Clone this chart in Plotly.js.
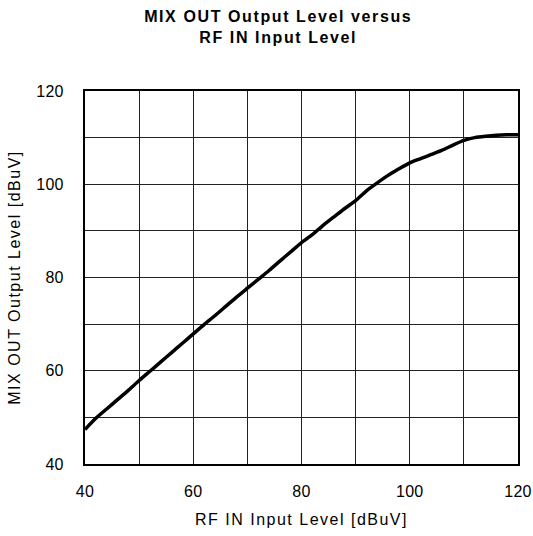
<!DOCTYPE html>
<html>
<head>
<meta charset="utf-8">
<script src="https://cdn.plot.ly/plotly-3.0.1.min.js"></script>
<style>
html,body{margin:0;padding:0;background:#fff;}
#chart{width:533px;height:536px;}
#chart .gtitle{letter-spacing:1.6px;}
#chart .xtitle, #chart .ytitle{letter-spacing:1.5px;}
#chart .xtick text, #chart .ytick text{letter-spacing:0.3px;}
</style>
</head>
<body>
<div id="chart"></div>
<script>
const rfIn = [40,42,44,46,48,50,52,54,56,58,60,62,64,66,68,70,72,74,76,78,80,82,84,86,88,90,92,94,96,98,100,102,104,106,108,110,112,114,116,118,120];
const mixOut = [47.4,49.8,51.8,53.8,55.8,57.9,59.9,61.9,63.9,65.9,67.9,69.9,71.8,73.8,75.8,77.7,79.6,81.5,83.5,85.5,87.5,89.2,91.2,93.0,94.8,96.5,98.6,100.3,101.9,103.3,104.6,105.5,106.4,107.3,108.4,109.4,110.0,110.3,110.5,110.6,110.6];
const gridVals = [40,50,60,70,80,90,100,110,120];
const tickLabels = ['40','','60','','80','','100','','120'];

const font = {family: 'Liberation Sans, Arial, sans-serif', color: '#000', size: 16};

Plotly.newPlot('chart', [{
  x: rfIn, y: mixOut, type: 'scatter', mode: 'lines',
  line: {color: '#000', width: 3.5, shape: 'spline', smoothing: 0.6},
  hoverinfo: 'skip', showlegend: false
}], {
  width: 533, height: 536,
  margin: {l: 85, r: 15, t: 91, b: 72},
  paper_bgcolor: '#fff', plot_bgcolor: '#fff',
  font: font,
  title: {
    text: '<b>MIX OUT Output Level versus<br>RF IN Input Level</b>',
    font: {family: 'Liberation Sans, Arial, sans-serif', size: 16, color: '#000'},
    xref: 'container', x: 0.522, xanchor: 'center',
    yref: 'container', y: 1 - 22/536, yanchor: 'middle'
  },
  xaxis: {
    range: [40, 120], tickvals: gridVals, ticktext: tickLabels,
    showgrid: true, gridcolor: '#222', gridwidth: 1,
    zeroline: false, showline: true, linecolor: '#000', linewidth: 2, mirror: true,
    ticks: '', ticklabelstandoff: 12,
    title: {text: 'RF IN Input Level [dBuV]', font: font, standoff: 15}
  },
  yaxis: {
    range: [40, 120], tickvals: gridVals, ticktext: tickLabels,
    showgrid: true, gridcolor: '#222', gridwidth: 1,
    zeroline: false, showline: true, linecolor: '#000', linewidth: 2, mirror: true,
    ticks: '', ticklabelstandoff: 16,
    title: {text: 'MIX OUT Output Level [dBuV]', font: font, standoff: 12}
  }
}, {staticPlot: true, displayModeBar: false});
</script>
</body>
</html>
